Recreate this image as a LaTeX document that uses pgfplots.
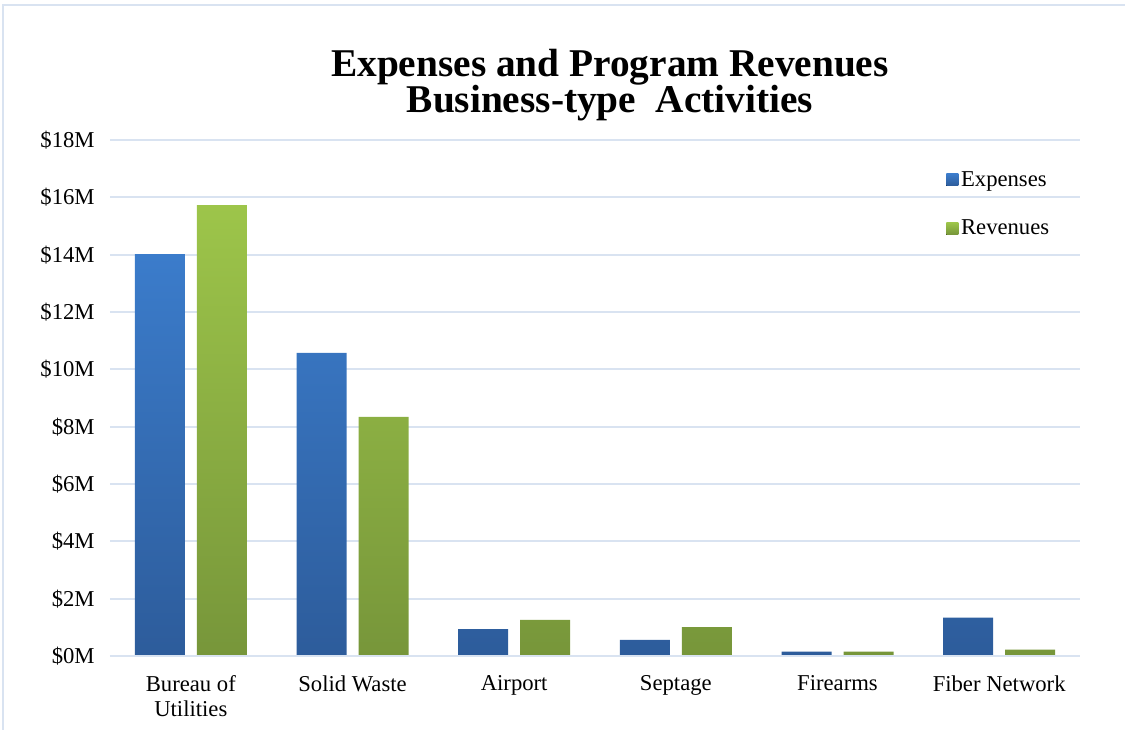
\documentclass[border=0pt]{standalone}
\usepackage{fontspec}
\setmainfont{Liberation Serif}
\usepackage{pgfplots}
\pgfplotsset{compat=1.18}

\definecolor{gridblue}{HTML}{D9E3F1}
\definecolor{bluetop}{HTML}{3B7CCB}
\definecolor{bluebot}{HTML}{2D5C9B}
\definecolor{greentop}{HTML}{9DC54A}
\definecolor{greenbot}{HTML}{77963A}

\begin{document}
\begin{tikzpicture}[x=0.75pt,y=0.75pt]
% page = 1125 x 729 px, 1px = 0.75pt, y measured from bottom
\useasboundingbox (0,0) rectangle (1125,729);
% outer chart frame (cut at right and bottom in the reference)
\draw[gridblue, line width=1.5pt] (3,-20) -- (3,724) -- (1140,724);

\node[font=\fontsize{29.5}{30}\selectfont\bfseries, anchor=base]
  at (610,652) {Expenses and Program Revenues};
\node[font=\fontsize{29.5}{30}\selectfont\bfseries, anchor=base]
  at (610,616) {Business-type\ \ Activities};

\begin{axis}[
    at={(82.5pt,54.75pt)}, anchor=south west,
    scale only axis, width=727.5pt, height=387pt,
    ybar, bar width=37.5pt,
    xmin=-0.5, xmax=5.5, ymin=0, ymax=18,
    xtick={0,...,5},
    xticklabels={Bureau of\\Utilities, Solid Waste, Airport, Septage, Firearms, Fiber Network},
    ytick={0,2,...,18},
    yticklabels={\$0M,\$2M,\$4M,\$6M,\$8M,\$10M,\$12M,\$14M,\$16M,\$18M},
    major tick length=0pt,
    tick label style={font=\fontsize{17}{19}\selectfont},
    xticklabel style={align=center, yshift=-11pt},
    yticklabel style={xshift=-8pt},
    ymajorgrids, grid style={gridblue, line width=1.5pt},
    axis line style={draw=none},
    legend style={draw=none, fill=none, at={(0.862,0.945)}, anchor=north west,
        font=\fontsize{17}{19}\selectfont, row sep=20pt, inner sep=0pt},
    legend cell align=left,
    legend image code/.code={\fill[#1] (0pt,-4.5pt) rectangle (9pt,4.5pt);},
]
\addplot[draw=none, top color=bluetop, bottom color=bluebot, bar shift=-23.25pt]
  coordinates {(0,14.02) (1,10.57) (2,0.94) (3,0.56) (4,0.15) (5,1.34)};
\addplot[draw=none, top color=greentop, bottom color=greenbot, bar shift=23.25pt]
  coordinates {(0,15.73) (1,8.34) (2,1.26) (3,1.01) (4,0.15) (5,0.22)};
\legend{Expenses, Revenues}
% base line over the bar bottoms
\draw[gridblue, line width=1.5pt] (rel axis cs:0,0) -- (rel axis cs:1,0);
\end{axis}
\end{tikzpicture}
\end{document}
